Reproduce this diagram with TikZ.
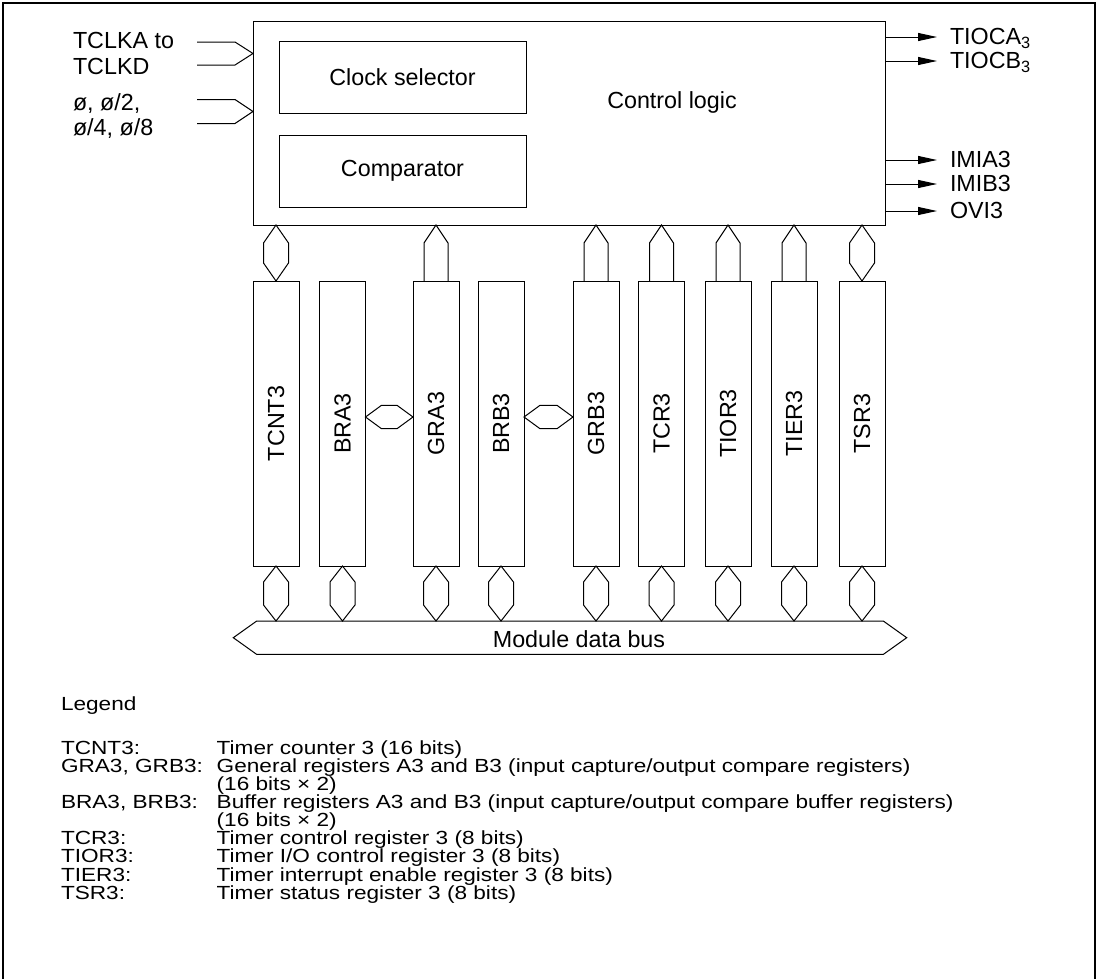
\documentclass[tikz,border=0pt]{standalone}
\usepackage{fontspec}
\setmainfont{Liberation Sans}
\newfontfamily\legfont[FakeStretch=1.19]{Liberation Sans}
\usetikzlibrary{arrows.meta,calc}
\newcommand\vhexc[3]{\draw (#1) -- ($(#1)+(12.5,#3)$) -- ($(#2)+(12.5,-#3)$) -- (#2) -- ($(#2)+(-12.5,-#3)$) -- ($(#1)+(-12.5,#3)$) -- cycle;}
\newcommand\uparrc[2]{\draw ($(#2)+(-12,0)$) -- ($(#1)+(-12,18)$) -- (#1) -- ($(#1)+(12,18)$) -- ($(#2)+(12,0)$);}
\newcommand\hhexc[2]{\draw (#1) -- ($(#1)+(16,-11.7)$) -- ($(#2)+(-16,-11.7)$) -- (#2) -- ($(#2)+(-16,11.7)$) -- ($(#1)+(16,11.7)$) -- cycle;}
\begin{document}
\begin{tikzpicture}[x=1pt,y=-1pt,line width=1pt,
  every node/.style={inner sep=0pt,outer sep=0pt,font=\fontsize{23.3}{26}\selectfont},
  box/.style={draw,rectangle,anchor=north west},
  reg/.style={draw,rectangle,minimum width=46pt,minimum height=285pt},
  outarr/.style={-{Triangle[length=19pt,width=8pt]}},
  lab/.style={anchor=base west},
  leg/.style={anchor=base west,font=\legfont\fontsize{19}{22}\selectfont}]
\useasboundingbox (0,0) rectangle (1098,978);
\draw[line width=1.2pt] (3,990) -- (3,3) -- (1095,3) -- (1095,990);

% control logic block
\node[box,minimum width=632pt,minimum height=204pt] (ctrl) at (253,21) {};
\node (ctrltxt) at (672,102) {Control logic};
\node[box,minimum width=247pt,minimum height=72pt] (clk) at (279,41) {};
\node (clktxt) at (clk.center) {Clock selector};
\node[box,minimum width=247pt,minimum height=72pt] (cmp) at (279,135) {};
\node (cmptxt) at (cmp.center) {Comparator};

% inputs
\node[lab] (in1a) at (73,48.3) {TCLKA to};
\node[lab] (in1b) at (73,74) {TCLKD};
\node[lab] (in2a) at (73,110) {ø, ø/2,};
\node[lab] (in2b) at (73,135) {ø/4, ø/8};
\coordinate (ia) at (ctrl.west |- 0,53.5);
\coordinate (ib) at (ctrl.west |- 0,111.5);
\draw (197,42) -- (235,42) -- (ia) -- (235,65) -- (197,65);
\draw (197,99.5) -- (235,99.5) -- (ib) -- (235,123.5) -- (197,123.5);

% outputs
\foreach \n/\y/\t in {o1/37/TIOCA\textsubscript{3},o2/61/TIOCB\textsubscript{3},o3/160/IMIA3,o4/184/IMIB3,o5/211/OVI3}{
  \coordinate (\n) at (937,\y);
  \draw[outarr] (ctrl.east |- \n) -- (\n);
  \node[lab] (\n t) at (950,\y+7.5) {\t};
}

% registers
\foreach \n/\x/\t in {tcnt/276/TCNT3,bra/342.5/BRA3,gra/436/GRA3,brb/501/BRB3,grb/596/GRB3,tcr/661.5/TCR3,tior/728/TIOR3,tier/794/TIER3,tsr/862/TSR3}{
  \node[reg] (\n) at (\x,423.5) {\rotatebox{90}{\t}};
}

% bus
\node[minimum width=626.6pt,minimum height=33.4pt,anchor=north west] (bus) at (256.7,621) {};
\draw (bus.north west) -- (bus.north east) -- ($(bus.east)+(23.4,0)$) -- (bus.south east) -- (bus.south west) -- ($(bus.west)+(-23.4,0)$) -- cycle;
\node[anchor=base] (bustxt) at (579,647) {Module data bus};

% register to control logic
\vhexc{tcnt.north |- ctrl.south}{tcnt.north}{18}
\vhexc{tsr.north |- ctrl.south}{tsr.north}{18}
\foreach \n in {gra,grb,tcr,tior,tier}{
  \uparrc{\n.north |- ctrl.south}{\n.north}
}
% register to bus
\foreach \n in {tcnt,bra,gra,brb,grb,tcr,tior,tier,tsr}{
  \vhexc{\n.south}{\n.south |- bus.north}{16}
}
% buffer <-> general
\hhexc{[yshift=6.5pt]bra.east}{[yshift=6.5pt]gra.west}
\hhexc{[yshift=6.5pt]brb.east}{[yshift=6.5pt]grb.west}

% legend
\node[leg] (lg) at (61,710) {Legend};
\foreach \i/\a/\b in {0/{TCNT3:}/{Timer counter 3 (16 bits)},
  1/{GRA3, GRB3:}/{General registers A3 and B3 (input capture/output compare registers)},
  2/{}/{(16 bits × 2)},
  3/{BRA3, BRB3:}/{Buffer registers A3 and B3 (input capture/output compare buffer registers)},
  4/{}/{(16 bits × 2)},
  5/{TCR3:}/{Timer control register 3 (8 bits)},
  6/{TIOR3:}/{Timer I/O control register 3 (8 bits)},
  7/{TIER3:}/{Timer interrupt enable register 3 (8 bits)},
  8/{TSR3:}/{Timer status register 3 (8 bits)}}{
  \node[leg] (la\i) at (61,754+18.15*\i) {\a};
  \node[leg] (lb\i) at (216.7,754+18.15*\i) {\b};
}
\end{tikzpicture}
\end{document}
